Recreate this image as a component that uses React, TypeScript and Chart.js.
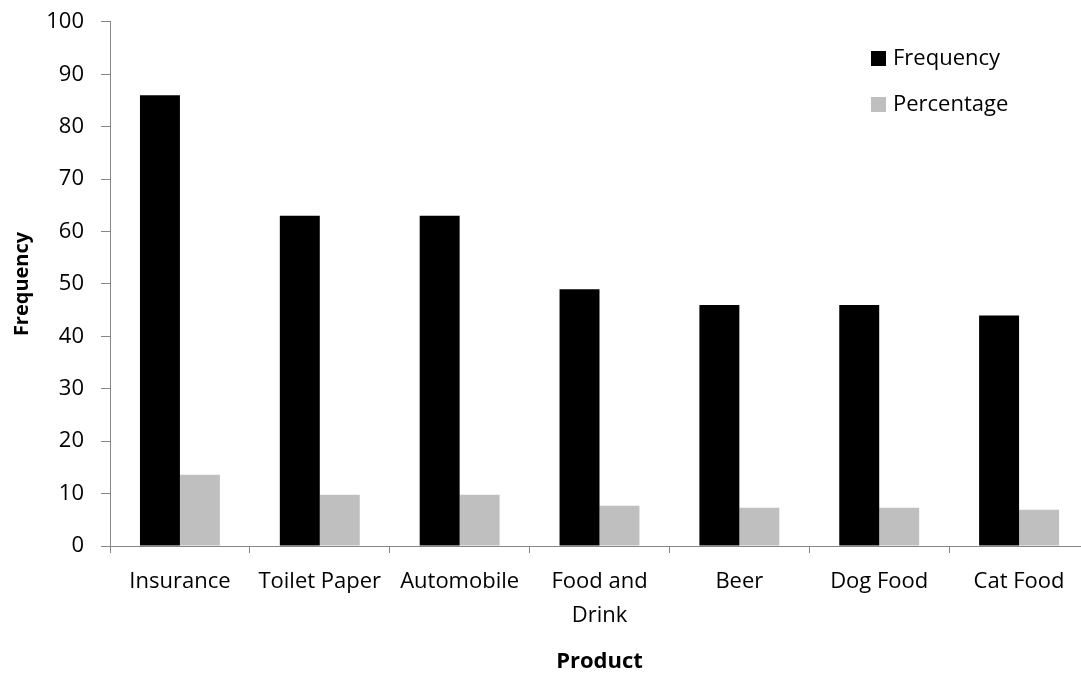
import React, { useEffect, useRef } from "react";
import { Chart, registerables } from "chart.js";

Chart.register(...registerables);

const categories = ["Insurance", "Toilet Paper", "Automobile", "Food and Drink", "Beer", "Dog Food", "Cat Food"];
const frequencyValues = [86, 63, 63, 49, 46, 46, 44];
const percentageValues = [13.6, 9.8, 9.8, 7.7, 7.3, 7.3, 6.9];
const seriesNames = ["Frequency", "Percentage"];
const seriesColors = ["#000000", "#BFBFBF"];
const yMin = 0;
const yMax = 100;
const yStep = 10;
const xTitle = "Product";
const yTitle = "Frequency";

const FONT = '"Open Sans", "DejaVu Sans", sans-serif';
const AXIS_COLOR = "#868686";

function wrapLabel(label: string): string | string[] {
  if (label.length <= 12) return label;
  const idx = label.lastIndexOf(" ");
  if (idx < 0) return label;
  return [label.slice(0, idx), label.slice(idx + 1)];
}

const legendPlugin = {
  id: "customLegend",
  afterDraw(chart: any) {
    const ctx = chart.ctx;
    ctx.save();
    chart.data.datasets.forEach((ds: any, i: number) => {
      const y = 58.5 + i * 46;
      ctx.fillStyle = ds.backgroundColor;
      ctx.fillRect(871, y - 7.5, 15, 15);
      ctx.fillStyle = "#000000";
      ctx.font = `22px ${FONT}`;
      ctx.textBaseline = "middle";
      ctx.textAlign = "left";
      ctx.fillText(ds.label, 893, y);
    });
    ctx.restore();
  },
};

export default function App() {
  const canvasRef = useRef<HTMLCanvasElement | null>(null);

  useEffect(() => {
    document.body.style.margin = "0";
    document.body.style.overflow = "hidden";
    const canvas = canvasRef.current;
    if (!canvas) return;
    const chart = new Chart(canvas, {
      type: "bar",
      data: {
        labels: categories,
        datasets: [
          {
            label: seriesNames[0],
            data: frequencyValues,
            backgroundColor: seriesColors[0],
            categoryPercentage: 80 / 140,
            barPercentage: 1,
          },
          {
            label: seriesNames[1],
            data: percentageValues,
            backgroundColor: seriesColors[1],
            categoryPercentage: 80 / 140,
            barPercentage: 1,
          },
        ],
      },
      options: {
        animation: false,
        responsive: true,
        maintainAspectRatio: false,
        layout: { padding: { top: 10, right: 11, left: 0, bottom: 0 } },
        plugins: {
          legend: { display: false },
          tooltip: { enabled: false },
          title: { display: false },
        },
        scales: {
          x: {
            offset: true,
            grid: {
              offset: true,
              display: true,
              drawOnChartArea: false,
              drawTicks: true,
              tickLength: 7,
              color: AXIS_COLOR,
              lineWidth: 1,
            },
            border: { display: true, color: AXIS_COLOR, width: 1 },
            ticks: {
              color: "#000000",
              font: { family: FONT, size: 22, lineHeight: 1.55 },
              padding: 12,
              maxRotation: 0,
              autoSkip: false,
              callback: function (this: any, value: any) {
                return wrapLabel(this.getLabelForValue(value));
              },
            },
            title: {
              display: true,
              text: xTitle,
              color: "#000000",
              font: { family: FONT, size: 22, weight: "bold" },
              padding: { top: 0, bottom: -2 },
            },
            afterFit: (scale: any) => {
              scale.height = 127;
            },
          },
          y: {
            min: yMin,
            max: yMax,
            ticks: {
              stepSize: yStep,
              color: "#000000",
              font: { family: FONT, size: 22, lineHeight: 0.45 },
              padding: 17,
            },
            grid: {
              display: true,
              drawOnChartArea: false,
              drawTicks: true,
              tickLength: 9,
              color: AXIS_COLOR,
              lineWidth: 1,
            },
            border: { display: true, color: AXIS_COLOR, width: 1 },
            title: {
              display: true,
              text: yTitle,
              color: "#000000",
              font: { family: FONT, size: 20, weight: "bold" },
              padding: { top: 10, bottom: 0 },
            },
            afterFit: (scale: any) => {
              scale.width = 110;
            },
          },
        },
      },
      plugins: [legendPlugin],
    });
    return () => chart.destroy();
  }, []);

  return (
    <div style={{ position: "absolute", left: 0, top: 0, width: 1100, height: 673, background: "#ffffff" }}>
      <canvas ref={canvasRef} />
    </div>
  );
}
